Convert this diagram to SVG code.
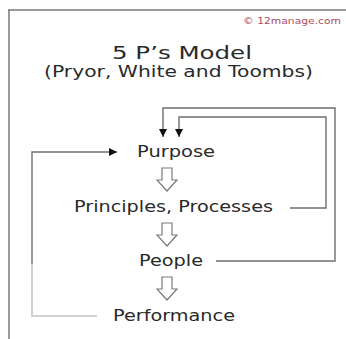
<svg xmlns="http://www.w3.org/2000/svg" width="346" height="339" viewBox="0 0 346 339">
  <style>
    .frame { stroke: #7a7a7a; stroke-width: 1.5; fill: none; }
    .link { stroke: #6e6e6e; stroke-width: 1.4; fill: none; }
    .link-light { stroke: #c4c4c4; stroke-width: 1.6; fill: none; }
    .step { stroke: #7a7a7a; stroke-width: 1.2; fill: #ffffff; }
    .label { font-family: "DejaVu Sans", Verdana, sans-serif; fill: #2a2a2a; }
    .title { font-size: 18px; }
    .subtitle { font-size: 15px; }
    .node { font-size: 15px; }
    .credit { font-family: "DejaVu Sans", Verdana, sans-serif; font-size: 9px; fill: #b04a60; }
  </style>
  <defs>
    <marker id="head" viewBox="0 0 10 10" refX="10" refY="5" markerWidth="8" markerHeight="8" markerUnits="userSpaceOnUse" orient="auto">
      <path d="M0,0 L10,5 L0,10 Z" fill="#111111"/>
    </marker>
  </defs>

  <rect width="346" height="339" fill="#ffffff"/>

  <!-- page frame: top and left edges -->
  <path class="frame" d="M8,10 H346 M9,10 V339"/>

  <text class="credit" x="243" y="24" textLength="98" lengthAdjust="spacingAndGlyphs">© 12manage.com</text>

  <text class="label title" x="112" y="59" textLength="140" lengthAdjust="spacingAndGlyphs">5 P’s Model</text>
  <text class="label subtitle" x="44" y="77" textLength="269" lengthAdjust="spacingAndGlyphs">(Pryor, White and Toombs)</text>

  <g id="connectors">
    <!-- People back to Purpose -->
    <polyline class="link" points="216,261 335,261 335,108 163,108 163,137" marker-end="url(#head)"/>
    <!-- Principles, Processes back to Purpose -->
    <polyline class="link" points="290,208 326,208 326,117 179,117 179,137" marker-end="url(#head)"/>
    <!-- Performance back to Purpose -->
    <polyline class="link-light" points="97,316 32,316 32,263"/>
    <polyline class="link" points="32,264 32,152 117,152" marker-end="url(#head)"/>
    <!-- downward step arrows -->
    <path class="step" d="M162,168 H172 V180 H177 L167,191 L157,180 H162 Z"/>
    <path class="step" d="M162,223 H172 V235 H177 L167,246 L157,235 H162 Z"/>
    <path class="step" d="M162,277 H172 V289 H177 L167,300 L157,289 H162 Z"/>
  </g>

  <g id="purpose">
    <text class="label node" x="137" y="157" textLength="78" lengthAdjust="spacingAndGlyphs">Purpose</text>
  </g>
  <g id="principles">
    <text class="label node" x="74" y="212" textLength="199" lengthAdjust="spacingAndGlyphs">Principles, Processes</text>
  </g>
  <g id="people">
    <text class="label node" x="139" y="266" textLength="64" lengthAdjust="spacingAndGlyphs">People</text>
  </g>
  <g id="performance">
    <text class="label node" x="113" y="321" textLength="122" lengthAdjust="spacingAndGlyphs">Performance</text>
  </g>
</svg>
